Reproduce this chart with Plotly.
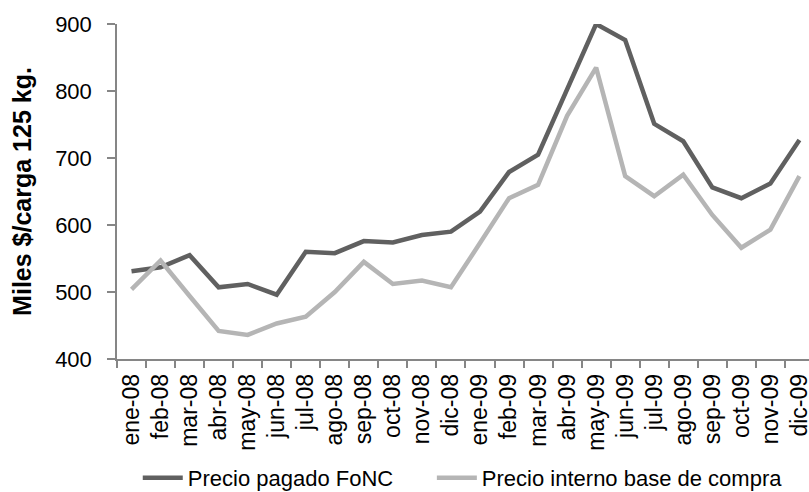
import plotly.graph_objects as go

meses = ["ene-08", "feb-08", "mar-08", "abr-08", "may-08", "jun-08", "jul-08", "ago-08",
         "sep-08", "oct-08", "nov-08", "dic-08", "ene-09", "feb-09", "mar-09", "abr-09",
         "may-09", "jun-09", "jul-09", "ago-09", "sep-09", "oct-09", "nov-09", "dic-09"]

precio_fonc = [531, 537, 555, 507, 512, 496, 560, 558, 576, 574, 585, 590,
               620, 679, 705, 802, 900, 876, 751, 725, 656, 640, 662, 727]

precio_interno = [504, 547, 494, 442, 436, 453, 463, 500, 545, 512, 517, 507,
                  573, 640, 660, 763, 835, 673, 643, 675, 615, 566, 593, 673]

y_ticks = [400, 500, 600, 700, 800, 900]

FONT = "Liberation Sans, Arial, sans-serif"
NARROW = "Liberation Sans Narrow, Arial Narrow, Liberation Sans, sans-serif"

fig = go.Figure()
fig.add_trace(go.Scatter(x=meses, y=precio_fonc, mode="lines", name="Precio pagado FoNC",
                         line=dict(color="#606060", width=4.5), legend="legend"))
fig.add_trace(go.Scatter(x=meses, y=precio_interno, mode="lines", name="Precio interno base de compra",
                         line=dict(color="#b5b5b5", width=4.5), legend="legend2"))

leg_common = dict(orientation="h", xanchor="left", y=-0.355, yanchor="middle",
                  font=dict(size=22), itemwidth=40, bgcolor="rgba(0,0,0,0)")

fig.update_layout(
    width=809, height=492,
    margin=dict(l=117, r=0, t=24, b=133, autoexpand=False),
    paper_bgcolor="white", plot_bgcolor="white",
    font=dict(family=FONT, size=22, color="black"),
    showlegend=True,
    legend=dict(x=0.03, **leg_common),
    legend2=dict(x=0.455, **leg_common),
    xaxis=dict(type="category", range=[-0.5, 23.33], showgrid=False,
               showline=True, linecolor="#868686", linewidth=1.5,
               ticks="outside", tickson="boundaries", ticklen=7, tickcolor="#868686", tickwidth=1.5,
               tickangle=-90, tickfont=dict(size=23, family=NARROW), ticklabelstandoff=4),
    yaxis=dict(range=[400, 900], tickvals=y_ticks, showgrid=False, zeroline=False,
               showline=True, linecolor="#868686", linewidth=1.5,
               ticks="outside", ticklen=8, tickcolor="#868686", tickwidth=1.5,
               tickfont=dict(size=22), ticklabelstandoff=11,
               title=dict(text="<b>Miles $/carga 125 kg.</b>", font=dict(size=25), standoff=16)),
)

fig.write_html("out.html", config={"displayModeBar": False},
               post_script="document.body.style.margin='0';")
